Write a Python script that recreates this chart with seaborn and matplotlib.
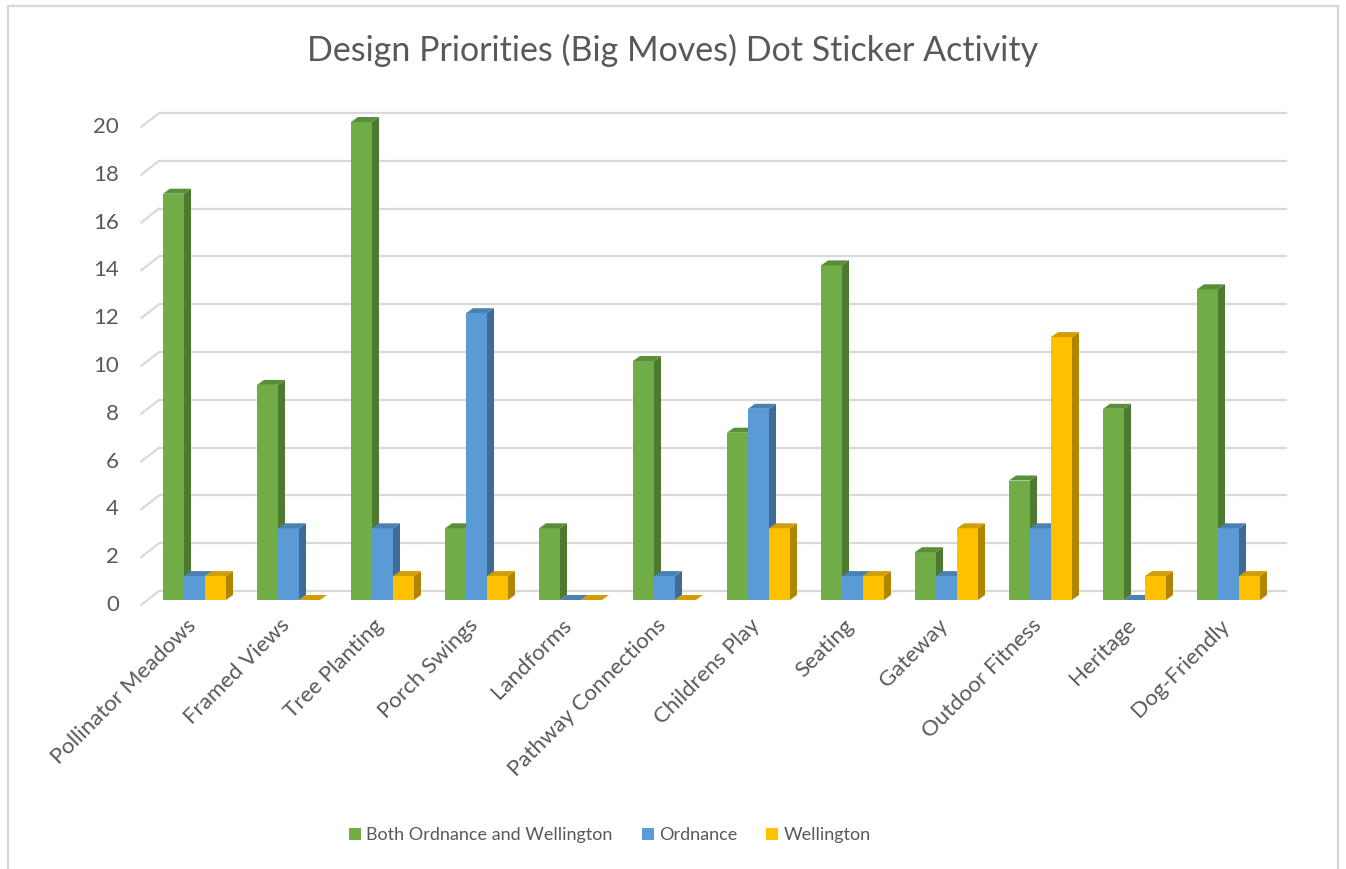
import seaborn as sns
import matplotlib.pyplot as plt
import pandas
from matplotlib.patches import Polygon, Rectangle
from matplotlib.transforms import ScaledTranslation

categories = ["Pollinator Meadows", "Framed Views", "Tree Planting", "Porch Swings",
              "Landforms", "Pathway Connections", "Childrens Play", "Seating",
              "Gateway", "Outdoor Fitness", "Heritage", "Dog-Friendly"]
series = ["Both Ordnance and Wellington", "Ordnance", "Wellington"]
both = [17, 9, 20, 3, 3, 10, 7, 14, 2, 5, 8, 13]
ordnance = [1, 3, 3, 12, 0, 1, 8, 1, 1, 3, 0, 3]
wellington = [1, 0, 1, 1, 0, 0, 3, 1, 3, 11, 1, 1]
yticks = list(range(0, 21, 2))

front_colors = ["#70AD47", "#5B9BD5", "#FFC000"]
side_colors = ["#4E7A30", "#3F6C97", "#B08500"]
top_colors = ["#5A8E39", "#4A80B3", "#D09E00"]
text_color = "#595959"
grid_color = "#D9D9D9"

rows = []
for name, vals in zip(series, [both, ordnance, wellington]):
    for c, v in zip(categories, vals):
        rows.append({"category": c, "series": name, "value": v})
df = pandas.DataFrame(rows)

sns.set_style("white")
plt.rcParams['font.family'] = ['Lato', 'DejaVu Sans']

W, H = 1346, 869
fig = plt.figure(figsize=(W / 100, H / 100), dpi=100)
# plot plane in pixels: x 147.5..1275.5, y=0 at 600 from top, 23.9 px per unit
ax = fig.add_axes([147.5 / W, 269 / H, 1128 / W, 21 * 23.9 / H])

sns.barplot(data=df, x="category", y="value", hue="series", order=categories,
            hue_order=series, palette=front_colors, saturation=1, width=0.67,
            errorbar=None, linewidth=0, ax=ax)
ax.set_xlim(-0.5, 11.5)
ax.set_ylim(0, 21)

# pixel -> data scale
p0 = ax.transData.transform((0, 0))
p1 = ax.transData.transform((1, 1))
sx, sy = p1[0] - p0[0], p1[1] - p0[1]

# fake 3d depth of the bars
ddx, ddy = 7 / sx, 5 / sy
for k, cont in enumerate(ax.containers):
    for bar in cont.patches:
        bar.set_zorder(2 + 2 * k)
        x0, w, h = bar.get_x(), bar.get_width(), bar.get_height()
        x1 = x0 + w
        side = Polygon([(x1, 0), (x1, h), (x1 + ddx, h + ddy), (x1 + ddx, ddy)],
                       closed=True, facecolor=side_colors[k], edgecolor="none",
                       zorder=3 + 2 * k)
        top = Polygon([(x0, h), (x1, h), (x1 + ddx, h + ddy), (x0 + ddx, h + ddy)],
                      closed=True, facecolor=top_colors[k], edgecolor="none",
                      zorder=3 + 2 * k)
        ax.add_patch(side)
        ax.add_patch(top)

# back wall gridlines and the short diagonals at the left edge
bx, by = 11.6 / sx, 9 / sy
fx, fy = 6.4 / sx, 5 / sy
xl, xr = ax.get_xlim()
for v in yticks:
    ax.plot([xl + bx, xr + bx], [v + by, v + by], color=grid_color, lw=1.6,
            zorder=0.5, clip_on=False, solid_capstyle="butt")
    ax.plot([xl - fx, xl + bx], [v - fy, v + by], color=grid_color, lw=1.6,
            zorder=0.5, clip_on=False)
    ax.text(xl - fx - 22 / sx, v - fy, str(v), ha="right", va="center",
            fontsize=16, color=text_color)

ax.set_yticks([])
ax.set_xticks(range(len(categories)))
ax.set_xticklabels(categories, rotation=45, ha="right", rotation_mode="anchor",
                   fontsize=16, color=text_color)
ax.tick_params(axis="x", length=0, pad=11)
shift = ScaledTranslation(-9 / 100, 0, fig.dpi_scale_trans)
for lab in ax.get_xticklabels():
    lab.set_transform(lab.get_transform() + shift)
ax.set_xlabel("")
ax.set_ylabel("")
for s in ax.spines.values():
    s.set_visible(False)
ax.patch.set_visible(False)

ax.legend_.remove()
handles = [Rectangle((0, 0), 1, 1, facecolor=c, edgecolor="none") for c in front_colors]
fig.legend(handles, series, loc="center", bbox_to_anchor=(610 / W, 1 - 835 / H),
           ncol=3, frameon=False, fontsize=13, labelcolor=text_color,
           handlelength=0.67, handleheight=0.67, handletextpad=0.3,
           columnspacing=1.6)

fig.text(673 / W, 1 - 50 / H, "Design Priorities (Big Moves) Dot Sticker Activity",
         ha="center", va="center", fontsize=24.5, color=text_color)

fig.patches.append(Rectangle((8 / W, -0.05), 1330 / W, 0.05 + 863 / H,
                             transform=fig.transFigure, fill=False,
                             edgecolor=grid_color, lw=1.6))

fig.savefig("out.png", dpi=100)
